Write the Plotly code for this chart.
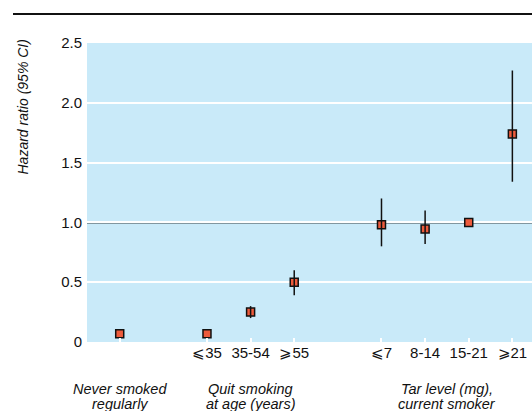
import plotly.graph_objects as go

# Data
categories = ["Never", "⩽35", "35-54", "⩾55", "⩽7", "8-14", "15-21", "⩾21"]
tick_labels = ["", "⩽35", "35-54", "⩾55", "⩽7", "8-14", "15-21", "⩾21"]
positions = [0, 2, 3, 4, 6, 7, 8, 9]
hazard_ratio = [0.07, 0.07, 0.25, 0.50, 0.98, 0.945, 1.00, 1.74]
ci_low = [0.07, 0.07, 0.20, 0.39, 0.80, 0.82, 1.00, 1.34]
ci_high = [0.07, 0.07, 0.30, 0.60, 1.20, 1.10, 1.00, 2.27]
group_line1 = ["Never smoked", "Quit smoking", "Tar level (mg),"]
group_line2 = ["regularly", "at age (years)", "current smoker"]
group_centers = [0, 3, 7.5]

err_plus = [h - hr for h, hr in zip(ci_high, hazard_ratio)]
err_minus = [hr - l for hr, l in zip(hazard_ratio, ci_low)]

FONT = "Liberation Sans, Arial, sans-serif"
BG = "#c9eaf9"

fig = go.Figure()
fig.add_trace(go.Scatter(
    x=positions, y=hazard_ratio, mode="markers",
    marker=dict(symbol="square", size=8, color="#ee5b3c",
                line=dict(color="#111111", width=1.5)),
    showlegend=False, hoverinfo="skip"))
fig.add_trace(go.Scatter(
    x=positions, y=hazard_ratio, mode="markers",
    marker=dict(size=1, opacity=0),
    error_y=dict(type="data", array=err_plus, arrayminus=err_minus,
                 color="#111111", thickness=1.5, width=0),
    showlegend=False, hoverinfo="skip"))

fig.add_shape(type="line", xref="paper", yref="y", x0=0, x1=1, y0=1, y1=1,
              line=dict(color="#3a4448", width=2), layer="below")
fig.add_shape(type="line", xref="paper", yref="paper",
              x0=(13 - 87) / 445, x1=1, y0=(342 - 14) / 299, y1=(342 - 14) / 299,
              line=dict(color="#111111", width=2))

for l1, l2, cx in zip(group_line1, group_line2, group_centers):
    fig.add_annotation(x=cx, xref="x", y=(342 - 389) / 299, yref="paper",
                       text=f"<i>{l1}</i>", showarrow=False, xanchor="center",
                       yanchor="middle", font=dict(family=FONT, size=14.5, color="#111111"))
    fig.add_annotation(x=cx, xref="x", y=(342 - 404) / 299, yref="paper",
                       text=f"<i>{l2}</i>", showarrow=False, xanchor="center",
                       yanchor="middle", font=dict(family=FONT, size=14.5, color="#111111"))

fig.add_annotation(x=(22 - 87) / 445, xref="paper", y=(342 - 38) / 299, yref="paper",
                   text="<i>Hazard ratio (95% CI)</i>", textangle=-90, showarrow=False,
                   xanchor="center", yanchor="top",
                   font=dict(family=FONT, size=14, color="#111111"))

fig.update_layout(
    width=532, height=411,
    margin=dict(l=87, r=0, t=43, b=69),
    paper_bgcolor="white", plot_bgcolor=BG,
    font=dict(family=FONT, size=15, color="#111111"),
    xaxis=dict(range=[-0.75, 9.45], tickvals=positions, ticktext=tick_labels,
               showgrid=False, zeroline=False, ticks="inside", ticklen=4,
               tickwidth=2, tickcolor="white", showline=False,
               tickfont=dict(family=FONT, size=15, color="#111111")),
    yaxis=dict(range=[0, 2.5], tickvals=[0, 0.5, 1.0, 1.5, 2.0, 2.5],
               ticktext=["0", "0.5", "1.0", "1.5", "2.0", "2.5"],
               showgrid=True, gridcolor="white", gridwidth=2, zeroline=False,
               ticks="", showline=False, ticklabelstandoff=4,
               tickfont=dict(family=FONT, size=15, color="#111111")),
)

fig.write_html("out.html", config={"displayModeBar": False},
               post_script="document.body.style.margin='0px';document.body.style.overflow='hidden';")
